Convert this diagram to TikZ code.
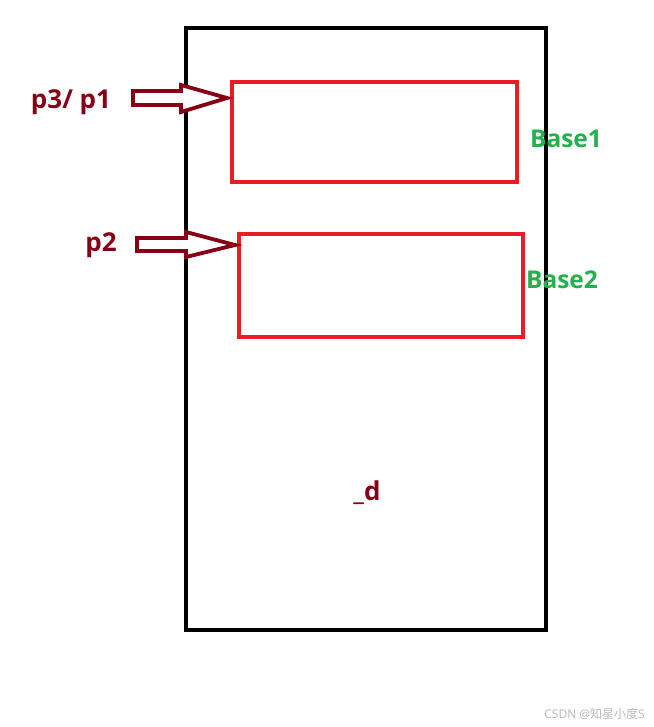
\documentclass[tikz,border=0pt]{standalone}
\usepackage{fontspec}
\setmainfont{Open Sans}
\newfontfamily\cjkfont{Noto Sans CJK SC}
\definecolor{darkred}{RGB}{136,0,21}
\definecolor{boxred}{RGB}{237,28,36}
\definecolor{basegreen}{RGB}{34,177,76}
\definecolor{wmgray}{RGB}{185,185,185}
\tikzset{
  outerbox/.style={draw=black,line width=4.4pt},
  redbox/.style={draw=boxred,line width=4.2pt},
  hollowarrow/.style={draw=darkred,line width=3.8pt,line join=miter,fill=white},
  lbl/.style={inner sep=0pt,font=\fontsize{26}{30}\selectfont\bfseries,text=darkred},
  baselbl/.style={inner sep=0pt,font=\fontsize{24.5}{28}\selectfont\bfseries,text=basegreen},
}
\begin{document}
\begin{tikzpicture}[x=1pt,y=-1pt]
\useasboundingbox (0,0) rectangle (653,727);
\fill[white] (0,0) rectangle (653,727);
% outer box
\node[outerbox,minimum width=360pt,minimum height=602pt,inner sep=0pt,anchor=north west] (outer) at (184,26) {};
% red boxes
\node[redbox,minimum width=285pt,minimum height=100pt,inner sep=0pt,anchor=north west] (base1box) at (230,80) {};
\node[redbox,minimum width=284pt,minimum height=103pt,inner sep=0pt,anchor=north west] (base2box) at (237,232) {};
% labels
\node[lbl] (p31) at (71,102) {p3/ p1};
\node[lbl] (p2) at (101,245) {p2};
\node[baselbl] (b1) at (566,139) {Base1};
\node[baselbl] (b2) at (562,280) {Base2};
\node[lbl] (d) at (367,493) {\_d};
% hollow arrows
\draw[hollowarrow] (133,91) -- (181,91) -- (181,85) -- (227,98) -- (181,112) -- (181,105) -- (133,105) -- cycle;
\draw[hollowarrow] (137,238) -- (186,238) -- (186,232) -- (235,245) -- (186,257) -- (186,251) -- (137,251) -- cycle;
% watermark
\node[inner sep=0pt,text=wmgray,font=\fontsize{12}{14}\selectfont,anchor=east] (wm) at (645,714) {CSDN @{\cjkfont 知星小度}S};
\end{tikzpicture}
\end{document}
